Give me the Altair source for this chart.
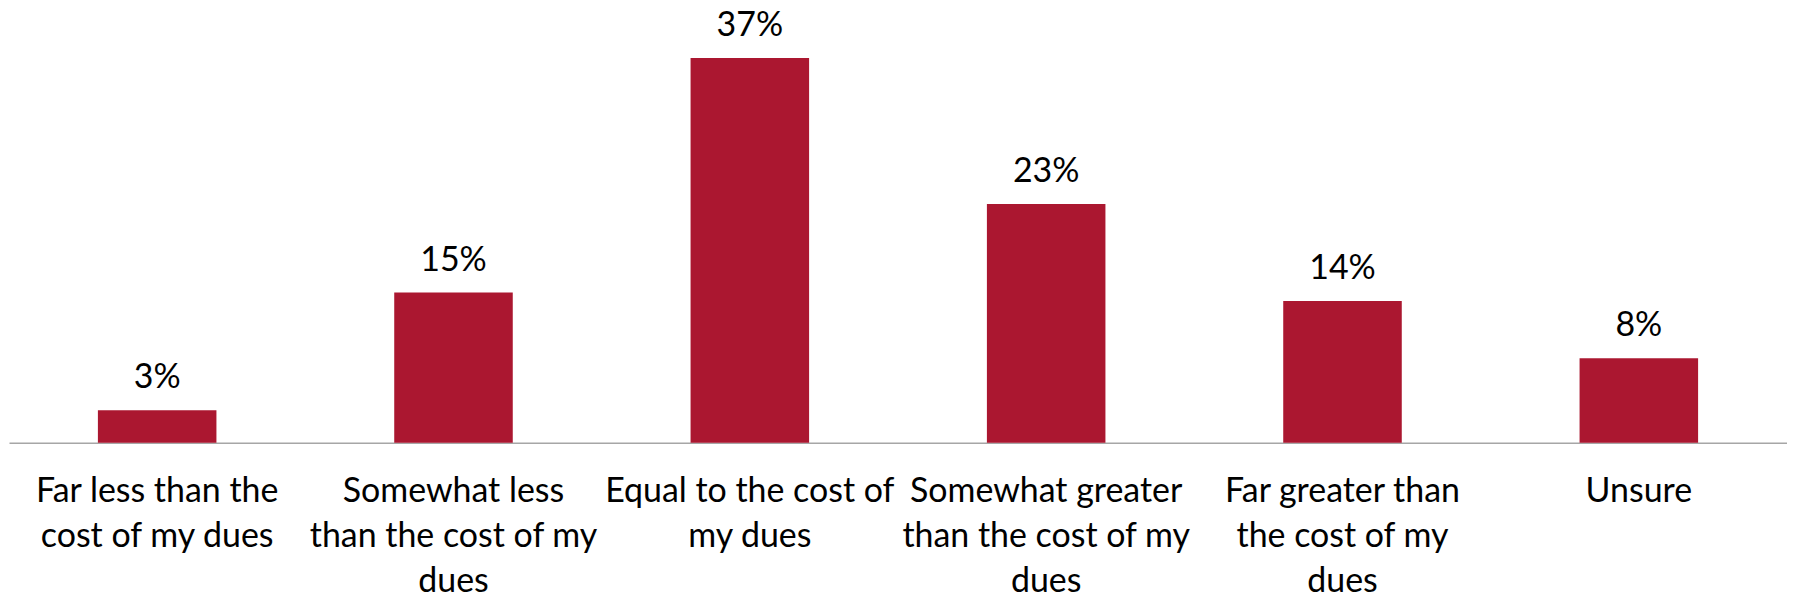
import altair as alt
import pandas as pd

categories = [
    "Far less than the cost of my dues",
    "Somewhat less than the cost of my dues",
    "Equal to the cost of my dues",
    "Somewhat greater than the cost of my dues",
    "Far greater than the cost of my dues",
    "Unsure",
]
values = [3.1, 14.4, 36.9, 22.9, 13.6, 8.1]
value_labels = ["3%", "15%", "37%", "23%", "14%", "8%"]
tick_labels = [
    ["Far less than the", "cost of my dues"],
    ["Somewhat less", "than the cost of my", "dues"],
    ["Equal to the cost of", "my dues"],
    ["Somewhat greater", "than the cost of my", "dues"],
    ["Far greater than", "the cost of my", "dues"],
    ["Unsure"],
]

df = pd.DataFrame({"cat": categories, "val": values, "lab": value_labels})

label_map = {c: "|".join(t) for c, t in zip(categories, tick_labels)}
expr_parts = " : ".join(
    [f"datum.value === '{c}' ? split('{label_map[c]}', '|')" for c in categories]
) + " : datum.label"

FONT = "Lato"
FS = 34

x = alt.X(
    "cat:N",
    sort=categories,
    scale=alt.Scale(paddingInner=0.6, paddingOuter=0.3),
    axis=alt.Axis(
        title=None,
        labelAngle=0,
        ticks=False,
        tickSize=0,
        domainColor="#A6A6A6",
        domainWidth=1.5,
        labelFont=FONT,
        labelFontSize=FS,
        labelColor="#000000",
        labelPadding=32,
        labelLineHeight=45,
        labelExpr=expr_parts,
        labelLimit=0,
        labelOverlap=False,
        labelBound=False,
    ),
)
y = alt.Y(
    "val:Q",
    scale=alt.Scale(domain=[0, 40], nice=False, zero=True),
    axis=None,
)

bars = alt.Chart(df).mark_bar(color="#AB1730").encode(x=x, y=y)
text = alt.Chart(df).mark_text(
    font=FONT, fontSize=FS, color="#000000", baseline="alphabetic", dy=-22
).encode(x=x, y=y, text="lab:N")

chart = (
    alt.layer(bars, text)
    .properties(
        width=1782,
        height=418,
        background="#FFFFFF",
        padding={"left": 1, "top": 17, "right": 0, "bottom": 150},
        autosize=alt.AutoSizeParams(type="none"),
    )
    .configure_view(strokeWidth=0, stroke="transparent")
)

chart.save("out.html", embed_options={"renderer": "svg", "actions": False})
